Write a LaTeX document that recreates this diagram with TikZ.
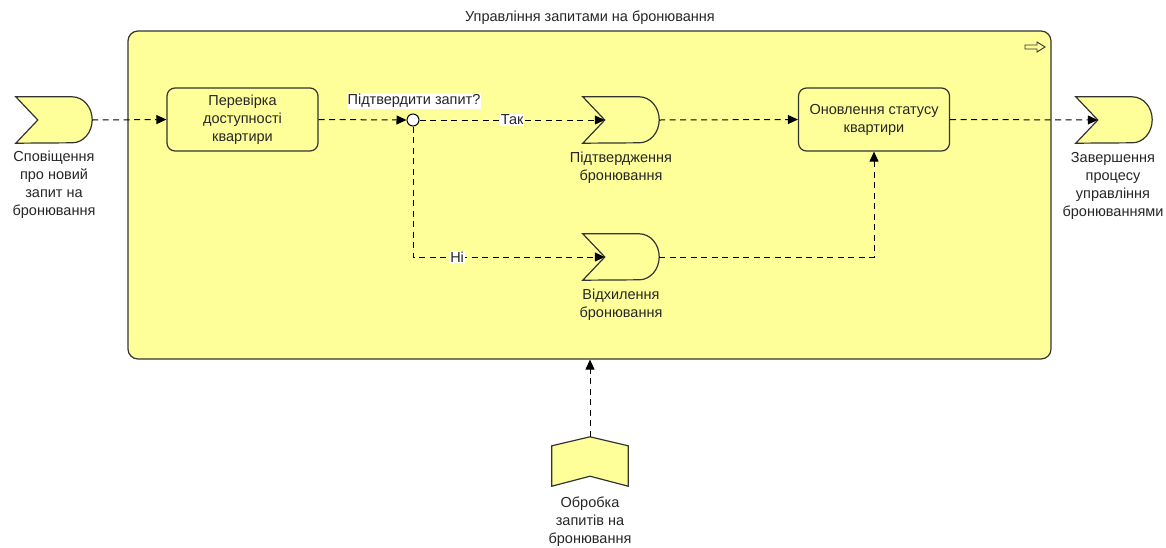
\documentclass[tikz,border=0pt]{standalone}
\usepackage{fontspec}
\setmainfont{Liberation Sans}
\usetikzlibrary{arrows.meta,calc}

\definecolor{archi}{HTML}{FFFF99}
\definecolor{edge}{HTML}{333333}
\definecolor{txt}{HTML}{262626}

% business event outline: notched left side, rounded right side
\newcommand\bizevent[1]{%
  \path[elem] (#1.north west) -- ([xshift=-20pt]#1.north east)
    arc[start angle=90,end angle=-90,x radius=20pt,y radius=23pt]
    -- (#1.south west) -- ([xshift=22pt]#1.west) -- cycle;
  \coordinate (#1n) at ([xshift=22pt]#1.west);}

\begin{document}
\begin{tikzpicture}[x=1pt,y=-1pt,
  elem/.style={draw=edge, line width=1.2pt, fill=archi},
  holder/.style={minimum width=76pt, minimum height=46pt, inner sep=0pt},
  taskbox/.style={elem, rounded corners=8pt, minimum width=151pt, minimum height=63pt,
    align=center, font=\fontsize{14.5}{18}\selectfont, text=txt, inner sep=2pt},
  lbl/.style={font=\fontsize{14.5}{18}\selectfont, text=txt, align=center, inner sep=0pt},
  tag/.style={lbl, fill=white, inner sep=1pt},
  flow/.style={draw=black, line width=1pt, dash pattern=on 6pt off 4.5pt,
    -{Triangle[length=10pt,width=9pt]}}]
\useasboundingbox (0,0) rectangle (1166,547);

% container process
\node[elem, rounded corners=10pt, minimum width=923pt, minimum height=328pt, inner sep=0pt]
  (proc) at (589.5,195) {};
\node[lbl] (proctitle) at (590,18) {Управління запитами на бронювання};
\draw[draw=edge, line width=0.9pt, line join=miter]
  (1025,45) -- (1037,45) -- (1037,42) -- (1045,47) -- (1037,52) -- (1037,49) -- (1025,49) -- cycle;

% events
\node[holder] (e1) at (54,120) {};
\bizevent{e1}
\node[lbl] (e1lbl) at (54,185) {Сповіщення\\про новий\\запит на\\бронювання};

\node[holder] (e2) at (621,120) {};
\bizevent{e2}
\node[lbl] (e2lbl) at (621,168) {Підтвердження\\бронювання};

\node[holder] (e3) at (621,257) {};
\bizevent{e3}
\node[lbl] (e3lbl) at (621,305) {Відхилення\\бронювання};

\node[holder] (e4) at (1114,120) {};
\bizevent{e4}
\node[lbl] (e4lbl) at (1113,186) {Завершення\\процесу\\управління\\бронюваннями};

% tasks
\node[taskbox] (t1) at (242.5,119.5) {Перевірка\\доступності\\квартири};
\node[taskbox] (t2) at (874,119.5) {Оновлення статусу\\квартири};

% junction
\node[circle, draw=black, fill=white, line width=1pt, minimum size=12pt, inner sep=0pt]
  (j) at (413,120) {};
\node[tag] (jlbl) at (414,101) {Підтвердити запит?};

% business process feeding the container
\node[minimum width=76pt, minimum height=49pt, inner sep=0pt] (p1) at (590,461.5) {};
\path[elem] ([yshift=-9pt]p1.north west) -- (p1.north) -- ([yshift=-9pt]p1.north east)
  -- (p1.south east) -- ([yshift=10pt]p1.south) -- (p1.south west) -- cycle;
\node[lbl] (p1lbl) at (590,522) {Обробка\\запитів на\\бронювання};

% flows
\draw[flow] (e1.east) -- (t1.west);
\draw[flow] (t1.east) -- (j.west);
\draw[flow] (j.east) -- node[tag, pos=0.5]{Так} (e2n);
\draw[flow] (j.south) |- node[tag, pos=0.615]{Ні} (e3n);
\draw[flow] (e2.east) -- (t2.west);
\draw[flow] (e3.east) -| (t2.south);
\draw[flow] (t2.east) -- (e4n);
\draw[flow] (p1.north) -- (p1.north |- proc.south);
\end{tikzpicture}
\end{document}
